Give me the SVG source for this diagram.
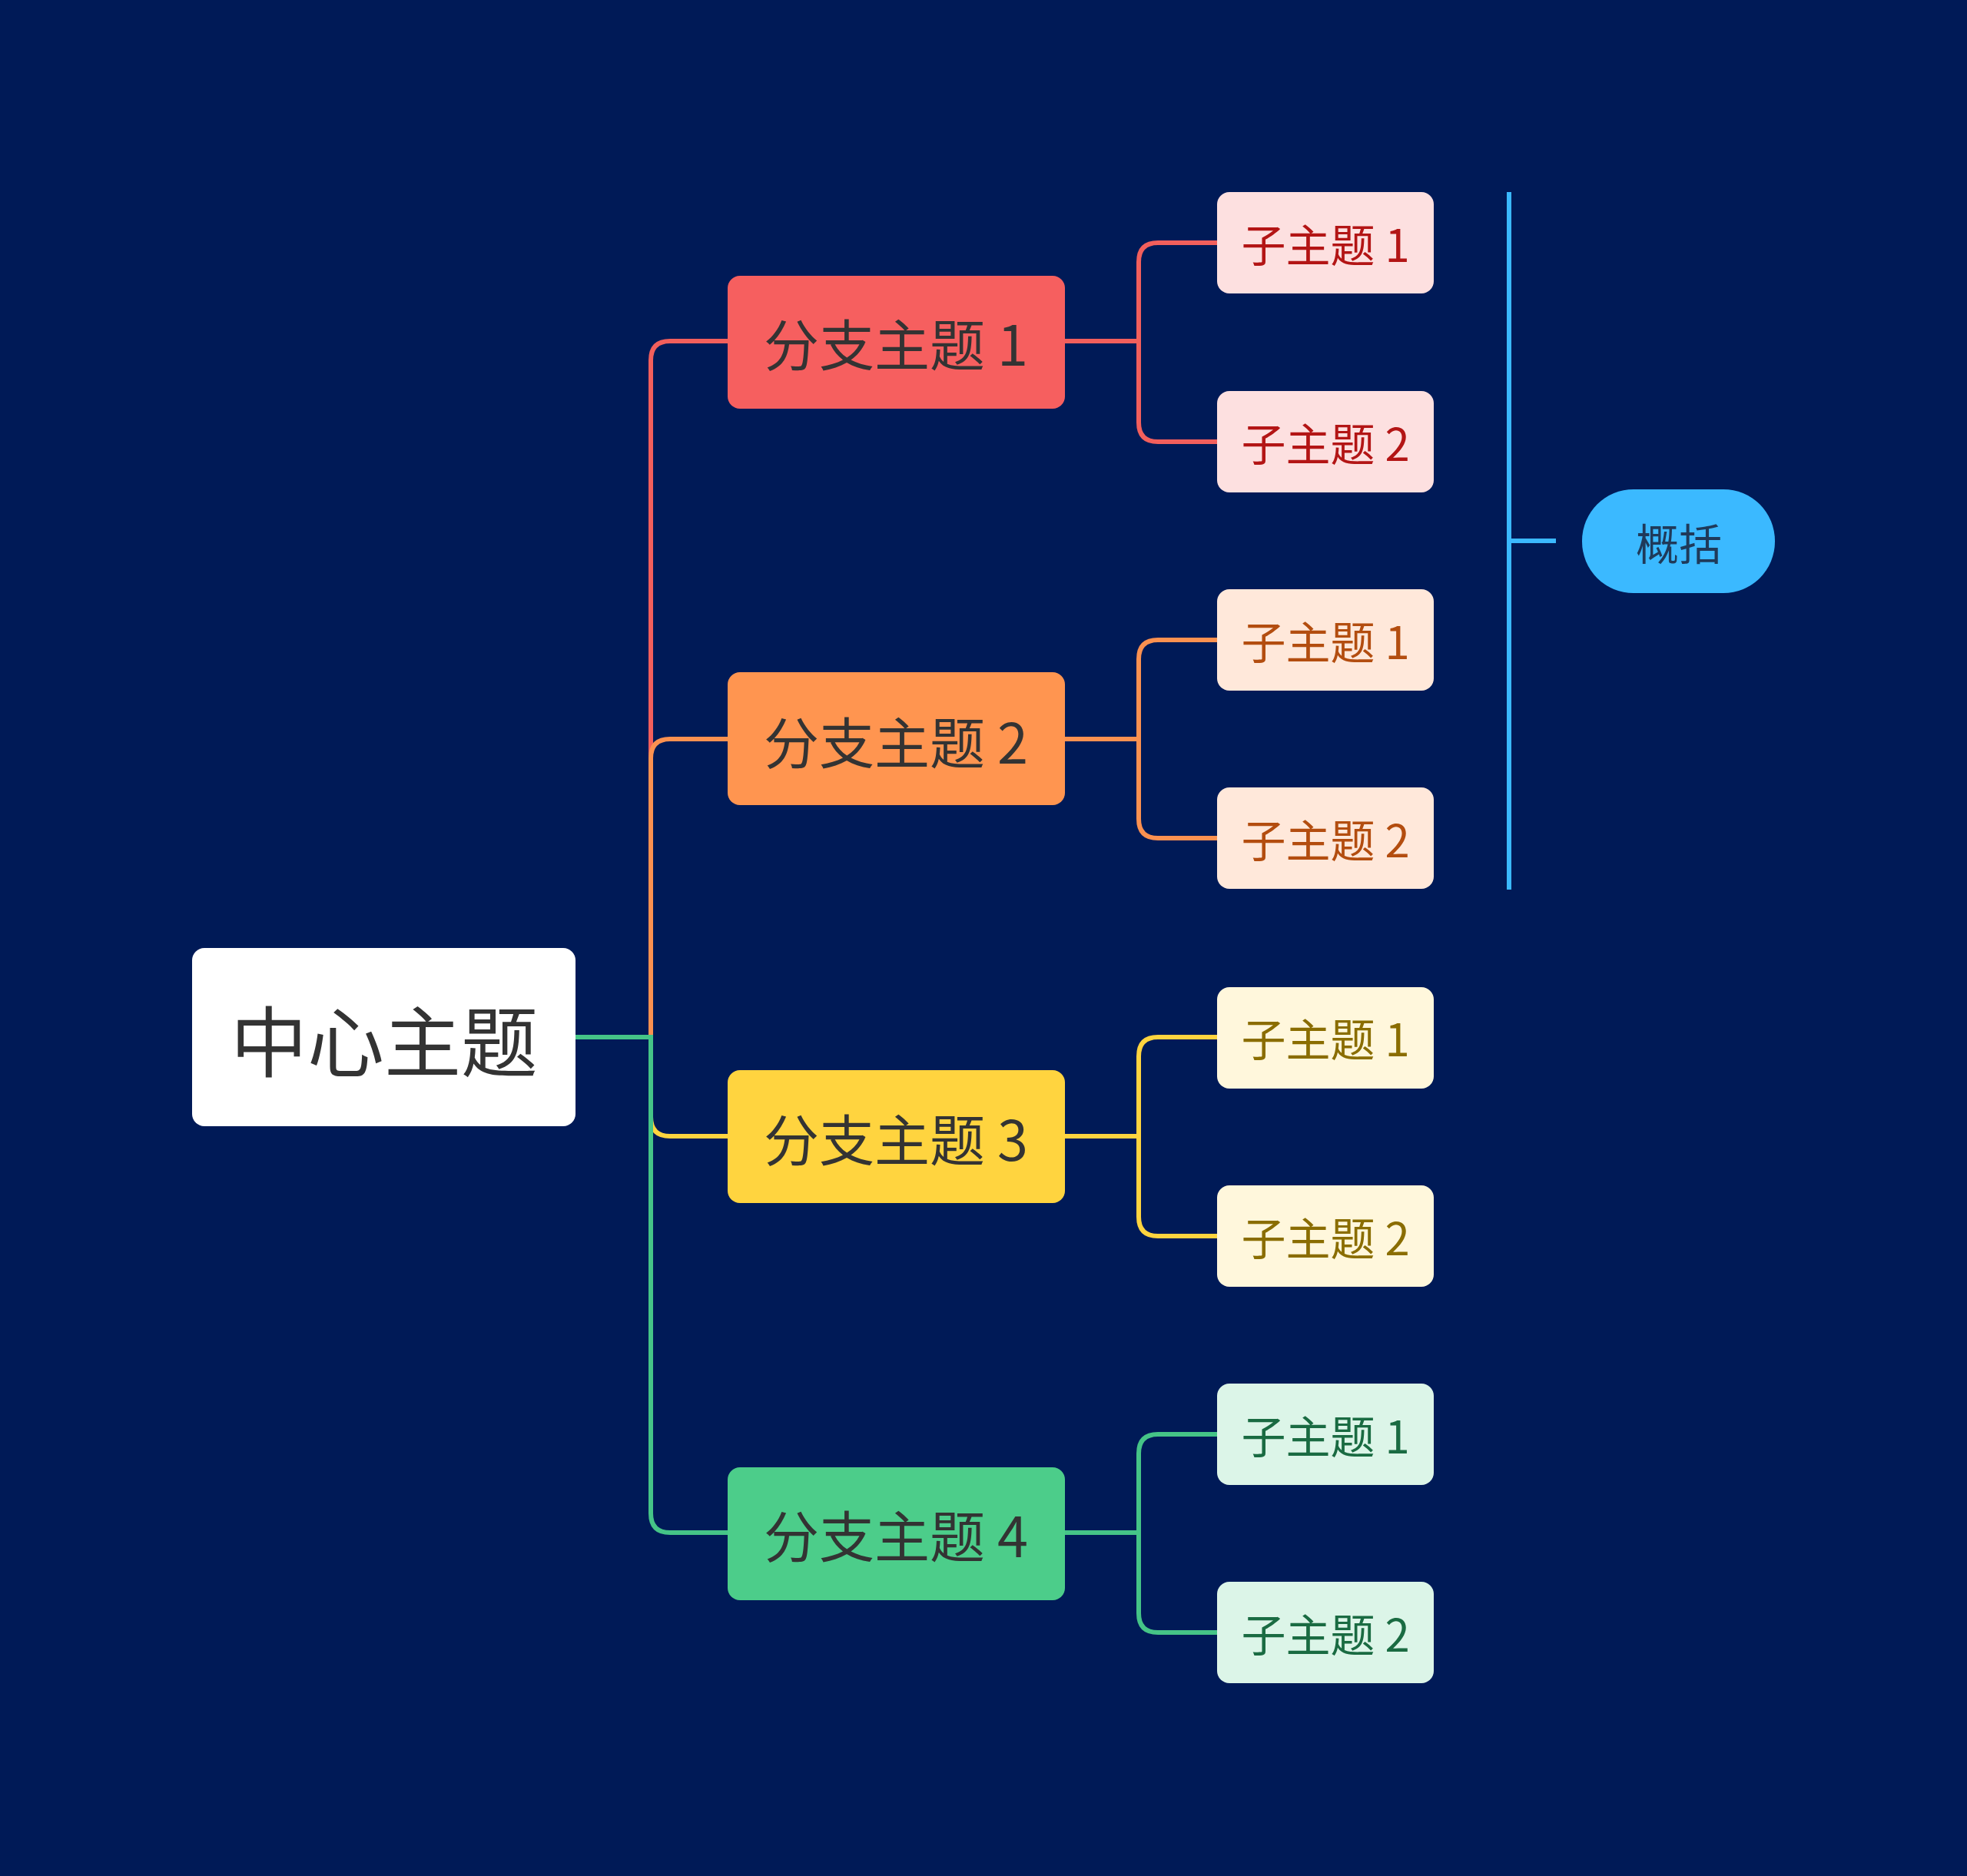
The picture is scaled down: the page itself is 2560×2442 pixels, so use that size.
<svg xmlns="http://www.w3.org/2000/svg" width="2560" height="2442" viewBox="0 0 2560 2442">
<style>
text{font-family:"Noto Sans CJK SC","Noto Sans",sans-serif;dominant-baseline:central;text-anchor:middle}
.c{fill:none;stroke-width:6}
.b text{font-size:72px;fill:#333}
.s text{font-size:58px}
</style>
<rect width="2560" height="2442" fill="#001a57"/>
<g id="connectors">
<path class="c" stroke="#f25f5c" d="M749,1350H847V469Q847,444 872,444H947"/>
<path class="c" stroke="#fb9150" d="M847,1350V987Q847,962 872,962H947"/>
<path class="c" stroke="#ffd43f" d="M847,1350V1454Q847,1479 872,1479H947"/>
<path class="c" stroke="#45c487" d="M749,1350H847V1970Q847,1995 872,1995H947"/>
<path class="c" stroke="#f25f5c" d="M1386,444H1482M1584,316H1507Q1482,316 1482,341V550Q1482,575 1507,575H1584"/>
<path class="c" stroke="#fb9150" d="M1386,962H1482M1584,833H1507Q1482,833 1482,858V1066Q1482,1091 1507,1091H1584"/>
<path class="c" stroke="#ffd43f" d="M1386,1479H1482M1584,1350H1507Q1482,1350 1482,1375V1584Q1482,1609 1507,1609H1584"/>
<path class="c" stroke="#45c487" d="M1386,1995H1482M1584,1867H1507Q1482,1867 1482,1892V2100Q1482,2125 1507,2125H1584"/>
<path class="c" stroke="#3bb9ff" stroke-width="7" d="M1964,250V1158M1964,704H2025"/>
</g>
<g id="center"><rect x="250" y="1234" width="499" height="232" rx="16" fill="#fff"/><text x="500" y="1350" font-size="100" fill="#333">中心主题</text></g>
<g id="b1" class="b"><rect x="947" y="359" width="439" height="173" rx="16" fill="#f65f5f"/><text x="1166" y="444">分支主题 1</text></g>
<g id="b2" class="b"><rect x="947" y="875" width="439" height="173" rx="16" fill="#ff9550"/><text x="1166" y="962">分支主题 2</text></g>
<g id="b3" class="b"><rect x="947" y="1393" width="439" height="173" rx="16" fill="#ffd43f"/><text x="1166" y="1479">分支主题 3</text></g>
<g id="b4" class="b"><rect x="947" y="1910" width="439" height="173" rx="16" fill="#4ccd8a"/><text x="1166" y="1995">分支主题 4</text></g>
<g id="s11" class="s"><rect x="1584" y="250" width="282" height="132" rx="16" fill="#fde0e0"/><text x="1725" y="316" fill="#b31515">子主题 1</text></g>
<g id="s12" class="s"><rect x="1584" y="509" width="282" height="132" rx="16" fill="#fde0e0"/><text x="1725" y="575" fill="#b31515">子主题 2</text></g>
<g id="s21" class="s"><rect x="1584" y="767" width="282" height="132" rx="16" fill="#ffe8da"/><text x="1725" y="833" fill="#b34d0f">子主题 1</text></g>
<g id="s22" class="s"><rect x="1584" y="1025" width="282" height="132" rx="16" fill="#ffe8da"/><text x="1725" y="1091" fill="#b34d0f">子主题 2</text></g>
<g id="s31" class="s"><rect x="1584" y="1285" width="282" height="132" rx="16" fill="#fff7dc"/><text x="1725" y="1350" fill="#8a6d00">子主题 1</text></g>
<g id="s32" class="s"><rect x="1584" y="1543" width="282" height="132" rx="16" fill="#fff7dc"/><text x="1725" y="1609" fill="#8a6d00">子主题 2</text></g>
<g id="s41" class="s"><rect x="1584" y="1801" width="282" height="132" rx="16" fill="#dcf5e8"/><text x="1725" y="1867" fill="#1a6b42">子主题 1</text></g>
<g id="s42" class="s"><rect x="1584" y="2059" width="282" height="132" rx="16" fill="#dcf5e8"/><text x="1725" y="2125" fill="#1a6b42">子主题 2</text></g>
<g id="summary"><rect x="2059" y="637" width="251" height="135" rx="67" fill="#3bb9ff"/><text x="2185" y="704" font-size="56" fill="#1f3a5a">概括</text></g>
</svg>
